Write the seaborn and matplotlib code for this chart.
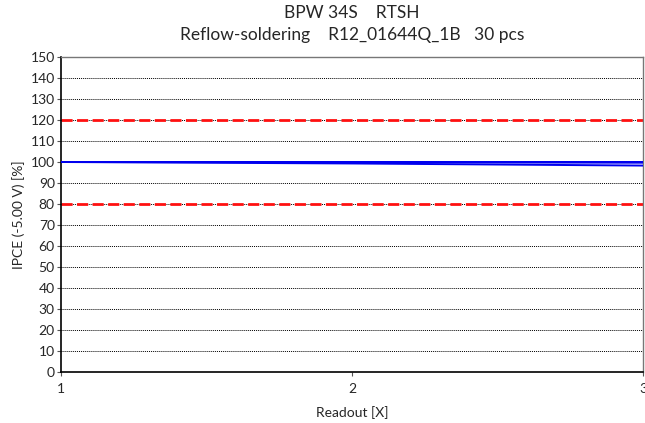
import matplotlib
matplotlib.use("Agg")
import matplotlib.pyplot as plt
import seaborn as sns
import pandas as pd

# Readout points and IPCE values (%) of the 30 pieces
readouts = [1, 2, 3]
ipce_pieces = [
    [100.0, 100.0, 100.0], [100.0, 100.0, 100.0], [100.0, 100.0, 100.0],
    [100.0, 100.0, 100.0], [100.0, 100.0, 100.0], [100.0, 100.0, 100.0],
    [100.0, 100.0, 100.0], [100.0, 100.0, 100.0], [100.0, 100.0, 100.0],
    [100.0, 100.0, 100.0], [100.0, 100.0, 100.0], [100.0, 100.0, 100.0],
    [100.0, 100.0, 100.0], [100.0, 100.0, 100.0], [100.0, 100.0, 100.0],
    [100.0, 100.0, 100.0], [100.0, 100.0, 100.0], [100.0, 100.0, 100.0],
    [100.0, 100.0, 100.0], [100.0, 100.0, 100.0], [100.0, 100.0, 100.0],
    [100.0, 100.0, 100.0], [100.0, 100.0, 100.0], [100.0, 100.0, 100.0],
    [100.0, 100.0, 100.0], [100.0, 100.0, 100.0], [100.0, 100.0, 100.0],
    [100.0, 100.0, 99.9], [100.0, 99.9, 99.7], [100.0, 99.3, 98.3],
]
limits = [80, 120]
y_ticks = list(range(0, 151, 10))
x_ticks = [1, 2, 3]

title_text = "BPW 34S    RTSH\nReflow-soldering    R12_01644Q_1B   30 pcs"
x_label = "Readout [X]"
y_label = "IPCE (-5.00 V) [%]"

rows = []
for piece, values in enumerate(ipce_pieces):
    for r, v in zip(readouts, values):
        rows.append({"piece": piece, "readout": r, "ipce": v})
df = pd.DataFrame(rows)

sns.set_theme(style="white")
plt.rcParams["font.family"] = ["Lato", "DejaVu Sans"]

fig = plt.figure(figsize=(6.45, 4.23), dpi=100)
ax = fig.add_axes([61 / 645, 51 / 423, 582 / 645, 315 / 423])

# horizontal dotted grid
for t in y_ticks:
    ax.axhline(t, color="black", linestyle=(0, (1, 1)), linewidth=0.7, zorder=1)

# lower / upper limits
for lim in limits:
    ax.axhline(lim, color="#ff1010", linestyle=(0, (4, 1.6)), linewidth=2.0, zorder=2)

sns.lineplot(data=df, x="readout", y="ipce", units="piece", estimator=None,
             color="#0000ee", linewidth=1.4, ax=ax, zorder=3)

ax.set_xlim(1, 3)
ax.set_ylim(0, 150)
ax.set_xticks(x_ticks)
ax.set_yticks(y_ticks)
ax.set_xticklabels([str(v) for v in x_ticks])
ax.set_yticklabels([str(v) for v in y_ticks])
ax.tick_params(axis="both", which="both", labelsize=10, length=3, width=0.8,
               color="#555555", direction="out", pad=1.5,
               left=True, bottom=True)
ax.tick_params(axis="x", pad=5)
for lbl in ax.get_xticklabels():
    lbl.set_clip_on(False)

for side in ["left", "bottom"]:
    ax.spines[side].set_color("black")
    ax.spines[side].set_linewidth(1.2)
for side in ["top", "right"]:
    ax.spines[side].set_color("#777777")
    ax.spines[side].set_linewidth(1.0)

ax.set_xlabel(x_label, fontsize=10, labelpad=8)
ax.set_ylabel(y_label, fontsize=10, labelpad=4)
fig.text(352 / 645, 1 - 24 / 423, title_text, ha="center", va="center",
         fontsize=12.5, linespacing=1.4)

fig.savefig("out.png", dpi=100)
